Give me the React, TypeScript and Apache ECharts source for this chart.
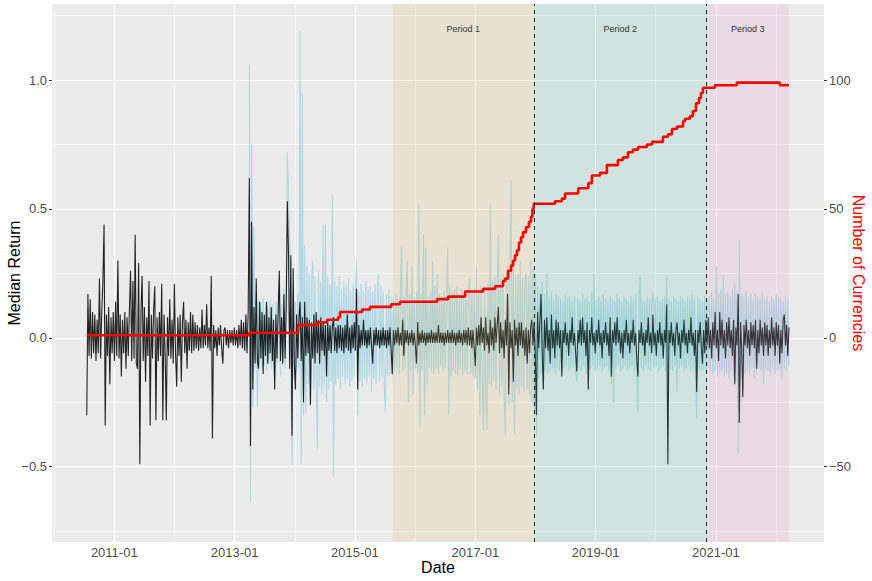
import React, { useEffect, useRef } from "react";
import * as echarts from "echarts";

// ---------- data ----------
// weekly sampling grid for the return series
const WEEK_START = "2010-07-18";
const BLUE_OFFSET_WEEKS = 141; // blue series begins 141 weeks after WEEK_START

// median return (hundredths), one value per week
const medianReturnWeekly = [
  -30, 17, -7, 15, -8, 10, -6, 9, -9, 7,
  -6, 23, -8, 10, 22, 44, -34, 9, -7, 12,
  -18, 8, -6, 10, -9, 14, -7, 30, -8, 9,
  -15, 7, -6, 10, -12, 8, -7, 11, 26, -9,
  22, -8, 40, -10, -12, 29, -49, 10, 24, -9,
  12, -17, 8, -7, 22, -34, 9, -8, 11, 20,
  -32, 8, -9, 10, -7, 21, -32, 9, -6, -32,
  8, -7, 15, -8, 7, -10, 21, -6, -19, 8,
  -7, 9, -17, 6, 14, -6, 7, -12, 6, -5,
  10, -6, 9, -5, 6, -4, 5, -5, 4, -4,
  11, -4, 5, -3, 13, -4, 4, -5, 24, -39,
  5, -4, 3, -7, 4, -3, 5, -4, -10, 3,
  4, -3, 3, -4, 3, -2, 3, -3, 4, -3,
  3, -4, 5, -3, 7, -4, 6, -5, 9, -6,
  10, 62, -42, 45, -20, 12, -10, 23, -9, -12,
  14, -8, 10, -14, 9, -7, 14, -10, 8, -6,
  12, -9, 7, -20, 9, -8, 10, 26, -9, 8,
  -10, 17, -8, 12, 53, 32, -12, 32, -38, 27,
  -10, -20, 9, -8, 7, 14, -9, 8, -25, 14,
  -7, 8, -6, 7, -26, 6, -8, 9, -10, 10,
  -6, 7, -10, 8, -5, 6, -7, 5, -15, 6,
  -5, 5, -6, 4, 8, -5, 4, -6, 5, -4,
  5, -5, 4, -6, 5, -4, 9, -5, 4, -6,
  5, -4, 6, -5, 19, -20, 5, -4, 3, -3,
  7, -3, 3, -4, 3, -3, 4, -3, -10, 3,
  -3, 4, -3, 3, -4, 3, -3, 4, -3, 3,
  -4, 3, -3, 4, -5, -14, 3, -3, 3, -2,
  4, -3, 2, -3, 7, -7, 3, -2, 3, -3,
  2, -2, 3, -3, 2, -3, -10, 6, -3, 2,
  -2, 3, -2, 2, -3, 2, -2, 2, -2, 3,
  -2, 2, -2, 2, -2, 5, -2, 2, -2, 2,
  -3, 2, -2, 3, -2, 2, -2, 3, -2, 2,
  -3, 2, -2, 3, -2, 2, -3, 3, -2, 3,
  -3, 4, -3, 3, -4, 3, -4, -11, 4, -3,
  5, -3, 8, -2, 4, -5, 8, -3, 2, -6,
  7, -3, 4, -5, 8, -2, 5, 12, -6, 6,
  -4, 3, -8, 7, -3, 17, -22, 6, -4, 3,
  -17, 7, -3, 4, -7, 6, -3, 6, -4, 3,
  -7, 4, -10, 3, -6, 4, 7, -3, 6, -6,
  -30, 10, -4, 6, 17, -5, -20, 7, -4, 8,
  -5, 3, -10, 9, -4, 3, -8, 7, -3, 6,
  -4, 3, -15, 3, -2, 6, -3, 2, -7, 3,
  -2, 8, -3, 2, -6, -13, 3, -2, 7, -3,
  8, -2, 3, -7, 6, -20, 3, -2, 8, -3,
  2, -6, 3, -2, 7, -3, 2, -8, 3, -2,
  6, -3, 2, -7, 8, -15, 3, -2, 6, -3,
  8, -2, 3, -6, 2, -8, 3, -2, 7, -3,
  2, -6, 3, -2, 7, -3, 2, -8, -15, 3,
  -2, 6, -3, 2, -7, 3, -2, 8, -3, 2,
  -6, 9, -3, 2, -7, 3, -2, 6, -3, 2,
  -8, 3, -2, 13, -49, 3, -2, 6, -3, 2,
  -7, 3, 6, -3, 2, -8, 3, -2, 7, -3,
  2, -6, 3, -2, 8, -3, 2, -7, 3, -21,
  3, -2, 6, -3, -10, 3, -6, 7, -3, 8,
  -4, 3, -8, 6, -3, 10, -4, 3, -9, 10,
  -3, 7, -4, 3, -8, 6, -3, 8, -4, 3,
  -7, 7, -18, 4, -3, 17, -33, 6, -4, -23,
  5, -3, 7, -4, 3, -7, 6, -3, 5, -4,
  7, -12, 3, -6, 7, -3, 4, -7, 6, -3,
  5, -7, 3, -4, 8, -3, 4, -7, 6, -3,
  5, -10, 3, -6, 7, 9, -3, 5, -7, 4,
];

// light-blue return series (hundredths), one value per week from week 141
const spreadReturnWeekly = [
  106, -64, 75, -27, 43, -12, 18, -27, 15,
  -10, 14, -12, 16, -11, 14, -13, 12, -10, 15,
  -12, 13, -11, -16, 14, -10, 12, 20, -15, 13,
  -11, 19, -12, 16, 72, 56, 37, -14, -49, 16,
  -15, 14, -13, 17, -12, 119, -49, 95, -30, 36,
  -29, 28, -18, 25, -26, 22, 30, -20, 24, -17,
  -43, 26, -19, 22, -22, 44, -18, 44, -25, 24,
  -20, 21, -17, 56, -54, 22, -18, 20, -16, 24,
  -20, 19, -15, 22, -18, 20, -16, 23, -19, 18,
  -17, 21, -15, 19, 30, -30, 18, -17, 21, -19,
  18, -16, 22, -18, 19, -15, 20, -21, 18, -16,
  21, -18, 19, 25, -17, 20, -15, 18, -19, -29,
  17, -15, 19, -14, 16, -15, 15, -13, 17, -12,
  15, -14, 18, 36, -13, 16, -12, 19, 30, -25,
  17, -13, 28, -22, 16, -12, 18, -14, 52, -34,
  17, -13, 40, -30, 35, -18, 16, -12, 18, -13,
  30, -14, 20, -12, 25, -14, 17, -11, 16, -13,
  18, -12, 17, 35, -30, 20, -15, 18, -13, 19,
  -14, 20, -15, 17, -12, 19, -15, 16, -13, 18,
  -14, 17, 23, -14, 18, -15, 19, -16, 28, -20,
  18, -30, 20, -16, -36, 19, -20, -36, 21, -18,
  52, -19, 22, -17, 24, -20, 21, 40, -22, 23,
  -19, 25, -21, -38, 24, 28, -26, 22, 61, -25,
  30, -37, 24, -20, 25, -22, 30, -19, 23, -21,
  22, 25, -20, 24, -22, 30, -25, 27, -30, 25,
  -38, 20, -16, 18, -14, 22, -20, 17, -13, 25,
  -14, 16, -13, 18, -12, 15, -14, 17, -12, 16,
  -13, 15, -15, 14, -12, 17, -11, 15, -13, 16,
  -12, 14, -11, 16, -13, -17, 15, -12, 14, -13,
  17, -11, 15, -14, 16, -20, 14, -12, 18, -11,
  25, -13, 15, -12, 16, -11, 14, -13, 17, -12,
  15, -11, 14, -13, 16, -18, 15, -25, 14, -12,
  17, -11, 15, -13, 14, -12, 16, -11, 15, -13,
  14, -12, 16, -11, 15, -13, 17, -12, -29, 16,
  24, -12, 15, -13, 14, -11, 16, -12, 15, -13,
  14, 18, -12, 15, -11, 16, -13, 14, -12, 15,
  -11, 16, -13, 24, -22, 15, -12, 14, -13, 16,
  -11, 15, -21, 14, -12, 16, -11, 15, -13, 14,
  -12, 16, -11, 15, -13, 17, -12, 15, -14, -31,
  16, -12, 15, -13, 14, -12, 16, -13, 15, -12,
  16, -13, 18, -14, 15, -13, 28, -15, 17, -14,
  19, -13, 24, -15, 17, -14, 18, -16, 16, -13,
  19, -15, 21, -17, 18, -45, 38, -18, 17, -20,
  16, -14, 18, -13, 16, -15, 17, -12, 15, -16,
  17, -14, 16, -12, 15, -13, 17, -18, 15, -12,
  16, -13, 14, -15, 16, -12, 15, -14, 17, -13,
  16, -12, 15, -16, 14, -12, 16, -13, 15, -11,
];

// number of currencies: dates where the count changes, and the new count
const currencyChangeDates = [
  "2010-07-18", "2013-03-31", "2014-01-21", "2014-05-17", "2014-07-16",
  "2014-09-21", "2014-10-03", "2015-02-14", "2015-04-03", "2015-08-09",
  "2015-10-02", "2016-05-14", "2016-07-20", "2016-10-31", "2017-02-17",
  "2017-05-01", "2017-06-18", "2017-07-01", "2017-07-19", "2017-08-06",
  "2017-08-18", "2017-08-30", "2017-09-11", "2017-09-23", "2017-10-06",
  "2017-10-18", "2017-11-05", "2017-11-23", "2017-12-05", "2017-12-14",
  "2017-12-22", "2018-04-30", "2018-06-10", "2018-06-30", "2018-09-18",
  "2018-11-18", "2018-12-10", "2019-01-28", "2019-03-11", "2019-05-17",
  "2019-06-17", "2019-07-17", "2019-08-16", "2019-09-16", "2019-11-09",
  "2019-12-10", "2020-02-14", "2020-03-16", "2020-04-09", "2020-05-09",
  "2020-06-15", "2020-06-27", "2020-07-27", "2020-08-14", "2020-09-02",
  "2020-09-20", "2020-10-02", "2020-10-14", "2020-12-26", "2021-05-08",
  "2022-01-24", "2022-03-20",
];
const currencyCounts = [
  1, 2, 5, 6, 7,
  8, 10, 11, 12, 13,
  14, 15, 16, 18, 19,
  20, 22, 23, 26, 28,
  30, 32, 34, 37, 39,
  41, 43, 45, 47, 50,
  52, 53, 54, 56, 58,
  60, 63, 64, 67, 69,
  70, 72, 73, 74, 75,
  76, 78, 79, 81, 82,
  84, 85, 86, 88, 91,
  93, 95, 97, 98, 99,
  98, 98,
];

// periods
const periodNames = ["Period 1", "Period 2", "Period 3"];
const periodStarts = ["2015-08-18", "2017-12-22", "2020-11-06"];
const periodEnds = ["2017-12-22", "2020-11-06", "2022-03-20"];
const periodDividers = ["2017-12-22", "2020-11-06"];

// axes
const xRange = ["2009-12-19", "2022-10-19"];
const xTickDates = ["2011-01-01", "2013-01-01", "2015-01-01", "2017-01-01", "2019-01-01", "2021-01-01"];
const xMinorDates = ["2010-01-01", "2012-01-01", "2014-01-01", "2016-01-01", "2018-01-01", "2020-01-01", "2022-01-01"];
const leftRange = [-0.792, 1.295];
const leftTicks = [-0.5, 0, 0.5, 1.0];
const leftMinor = [-0.75, -0.25, 0.25, 0.75, 1.25];
const rightRange = [-79.2, 129.5];
const rightTicks = [-50, 0, 50, 100];

// ---------- helpers ----------
const DAY = 86400000;
function ts(s: string): number {
  const [y, m, d] = s.split("-").map(Number);
  return Date.UTC(y, m - 1, d);
}
const MINUS = "\u2212";

const FONT = "'Liberation Sans', Arial, Helvetica, sans-serif";
const periodFill = ["rgba(222,175,82,0.16)", "rgba(75,188,155,0.16)", "rgba(215,142,182,0.16)"];

export default function App() {
  const ref = useRef<HTMLDivElement>(null);

  useEffect(() => {
    document.body.style.margin = "0";
    if (!ref.current) return;
    const chart = echarts.init(ref.current, undefined, { renderer: "svg" });

    const t0 = ts(WEEK_START);
    const blackData = medianReturnWeekly.map((v, i) => [t0 + i * 7 * DAY, v / 100]);
    const blueData = spreadReturnWeekly.map((v, j) => [t0 + (j + BLUE_OFFSET_WEEKS) * 7 * DAY, v / 100]);
    const redData = currencyChangeDates.map((d, i) => [ts(d), currencyCounts[i]]);

    const gridLines: any[] = [
      ...xTickDates.map((d) => ({ xAxis: ts(d), lineStyle: { color: "#ffffff", width: 1.1, type: "solid" } })),
      ...xMinorDates.map((d) => ({ xAxis: ts(d), lineStyle: { color: "#ffffff", width: 0.55, type: "solid" } })),
      ...leftTicks.map((v) => ({ yAxis: v, lineStyle: { color: "#ffffff", width: 1.1, type: "solid" } })),
      ...leftMinor.map((v) => ({ yAxis: v, lineStyle: { color: "#ffffff", width: 0.55, type: "solid" } })),
    ];

    const areas: any[] = periodNames.map((name, k) => [
      { name, xAxis: ts(periodStarts[k]), itemStyle: { color: periodFill[k] } },
      { xAxis: ts(periodEnds[k]) },
    ]);

    const option: any = {
      animation: false,
      textStyle: { fontFamily: FONT },
      grid: {
        left: 52,
        right: 48,
        top: 4,
        bottom: 39,
        containLabel: false,
        outerBoundsMode: "none",
        show: true,
        backgroundColor: "#EBEBEB",
        borderWidth: 0,
      },
      xAxis: {
        type: "value",
        min: ts(xRange[0]),
        max: ts(xRange[1]),
        splitLine: { show: false },
        axisLine: { show: false },
        axisTick: {
          show: true,
          customValues: xTickDates.map(ts),
          length: 3,
          lineStyle: { color: "#333333", width: 1 },
        },
        axisLabel: {
          customValues: xTickDates.map(ts),
          color: "#4D4D4D",
          fontSize: 13,
          fontFamily: FONT,
          margin: 4,
          formatter: (v: number) => {
            const d = new Date(v);
            return d.getUTCFullYear() + "-" + String(d.getUTCMonth() + 1).padStart(2, "0");
          },
        },
        name: "Date",
        nameLocation: "middle",
        nameGap: 17,
        nameMoveOverlap: false,
        nameTextStyle: { color: "#000000", fontSize: 16, fontFamily: FONT },
      },
      yAxis: [
        {
          type: "value",
          min: leftRange[0],
          max: leftRange[1],
          splitLine: { show: false },
          axisLine: { show: false },
          axisTick: {
            show: true,
            customValues: leftTicks,
            length: 3,
            lineStyle: { color: "#333333", width: 1 },
          },
          axisLabel: {
            customValues: leftTicks,
            color: "#4D4D4D",
            fontSize: 13,
            fontFamily: FONT,
            margin: 5,
            formatter: (v: number) => (v < 0 ? MINUS : "") + Math.abs(v).toFixed(1),
          },
          name: "Median Return",
          nameLocation: "middle",
          nameGap: 30,
          nameMoveOverlap: false,
          nameTextStyle: { color: "#000000", fontSize: 16, fontFamily: FONT },
        },
        {
          type: "value",
          position: "right",
          min: rightRange[0],
          max: rightRange[1],
          splitLine: { show: false },
          axisLine: { show: false },
          axisTick: {
            show: true,
            customValues: rightTicks,
            length: 3,
            lineStyle: { color: "#333333", width: 1 },
          },
          axisLabel: {
            customValues: rightTicks,
            color: "#4D4D4D",
            fontSize: 13,
            fontFamily: FONT,
            margin: 5,
            formatter: (v: number) => (v < 0 ? MINUS : "") + Math.abs(v),
          },
          name: "Number of Currencies",
          nameLocation: "middle",
          nameRotate: -90,
          nameGap: 26,
          nameMoveOverlap: false,
          nameTextStyle: { color: "#FF0000", fontSize: 16, fontFamily: FONT },
        },
      ],
      series: [
        {
          name: "spread",
          type: "line",
          z: 2,
          silent: true,
          showSymbol: false,
          symbol: "none",
          data: blueData,
          lineStyle: { color: "#ADD8E6", width: 1.1, opacity: 1 },
          markLine: {
            z: 1,
            silent: true,
            symbol: ["none", "none"],
            label: { show: false },
            data: gridLines,
          },
        },
        {
          name: "median",
          type: "line",
          z: 3,
          silent: true,
          showSymbol: false,
          symbol: "none",
          data: blackData,
          lineStyle: { color: "#000000", width: 1.1, opacity: 0.85 },
          markArea: {
            z: 4,
            silent: true,
            label: {
              show: true,
              position: "insideTop",
              distance: 20,
              fontSize: 9,
              color: "#333333",
              fontFamily: FONT,
            },
            data: areas,
          },
        },
        {
          name: "count",
          type: "line",
          yAxisIndex: 1,
          z: 5,
          silent: true,
          showSymbol: false,
          symbol: "none",
          step: "end",
          data: redData,
          lineStyle: { color: "#FF0000", width: 2.6 },
          markLine: {
            z: 6,
            silent: true,
            symbol: ["none", "none"],
            label: { show: false },
            lineStyle: { color: "#222222", width: 1, type: [4, 4] },
            data: periodDividers.map((d) => ({ xAxis: ts(d) })),
          },
        },
      ],
    };

    chart.setOption(option);
    return () => chart.dispose();
  }, []);

  return <div ref={ref} style={{ width: 872, height: 581 }} />;
}
